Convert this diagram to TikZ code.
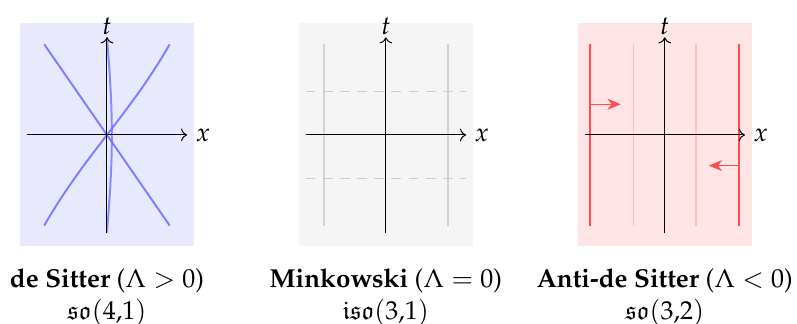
\documentclass[tikz,border=0pt]{standalone}
\usepackage[T1]{fontenc}
\usepackage{amsmath,amssymb}
\usepackage{mathpazo}
\usepackage{tikz}
\usetikzlibrary{arrows.meta,positioning}

\begin{document}
\begin{tikzpicture}[font=\fontsize{10.6pt}{12.9pt}\selectfont,
  axis/.style={->,black},
  geod/.style={thick,blue!50},
  wline/.style={semithick,gray!35},
  sline/.style={gray!40,dashed,dash pattern=on 4pt off 3pt},
  bdry/.style={thick,red!70},
  inner/.style={semithick,red!25},
  push/.style={red!70,-{Stealth[length=5.5pt,width=4.5pt]}}]
  \useasboundingbox (-1.534,-2.71) rectangle (9.896,1.935);
  % de Sitter
  \begin{scope}
    \fill[blue!9] (-1.25,-1.6) rectangle (1.25,1.6);
    \draw[geod] (-0.9,1.3) -- (0.9,-1.3);
    \draw[geod] plot[domain=-1:1,samples=30] ({0.9*\x},{1.3*sinh(0.8*\x)/sinh(0.8)});
    \draw[blue!55,thick,opacity=.8] plot[domain=-1:1,samples=30] ({0.07*cos(90*\x)},{1.4*\x});
    \draw[axis] (-1.15,0) -- (1.15,0) node[right] (xdS) {$x$};
    \draw[axis] (0,-1.4) -- (0,1.4) node[above,inner sep=1pt] (tdS) {$t$};
    \node[align=center] (dS) at (0,-2.33) {\textbf{de Sitter} ($\Lambda>0$)\\$\mathfrak{so}(4{,}1)$};
  \end{scope}
  % Minkowski
  \begin{scope}[xshift=4cm]
    \fill[gray!8] (-1.25,-1.6) rectangle (1.25,1.6);
    \draw[wline] (-0.89,-1.3) -- (-0.89,1.3);
    \draw[wline] (0.89,-1.3) -- (0.89,1.3);
    \draw[sline] (-1.15,0.62) -- (1.15,0.62);
    \draw[sline] (-1.15,-0.62) -- (1.15,-0.62);
    \draw[axis] (-1.15,0) -- (1.15,0) node[right] (xM) {$x$};
    \draw[axis] (0,-1.4) -- (0,1.4) node[above,inner sep=1pt] (tM) {$t$};
    \node[align=center] (M) at (0,-2.33) {\textbf{Minkowski} ($\Lambda=0$)\\$\mathfrak{iso}(3{,}1)$};
  \end{scope}
  % Anti-de Sitter
  \begin{scope}[xshift=8cm]
    \fill[red!10] (-1.25,-1.6) rectangle (1.25,1.6);
    \draw[inner] (-0.45,-1.3) -- (-0.45,1.3);
    \draw[inner] (0.45,-1.3) -- (0.45,1.3);
    \draw[bdry] (-1.07,-1.3) -- (-1.07,1.3);
    \draw[bdry] (1.07,-1.3) -- (1.07,1.3);
    \coordinate (pl) at (-1.07,0.44);
    \coordinate (pr) at (1.07,-0.44);
    \draw[push] (pl) -- ++(0.44,0);
    \draw[push] (pr) -- ++(-0.44,0);
    \draw[axis] (-1.15,0) -- (1.15,0) node[right] (xAdS) {$x$};
    \draw[axis] (0,-1.4) -- (0,1.4) node[above,inner sep=1pt] (tAdS) {$t$};
    \node[align=center] (AdS) at (0,-2.33) {\textbf{Anti-de Sitter} ($\Lambda<0$)\\$\mathfrak{so}(3{,}2)$};
  \end{scope}
\end{tikzpicture}
\end{document}
